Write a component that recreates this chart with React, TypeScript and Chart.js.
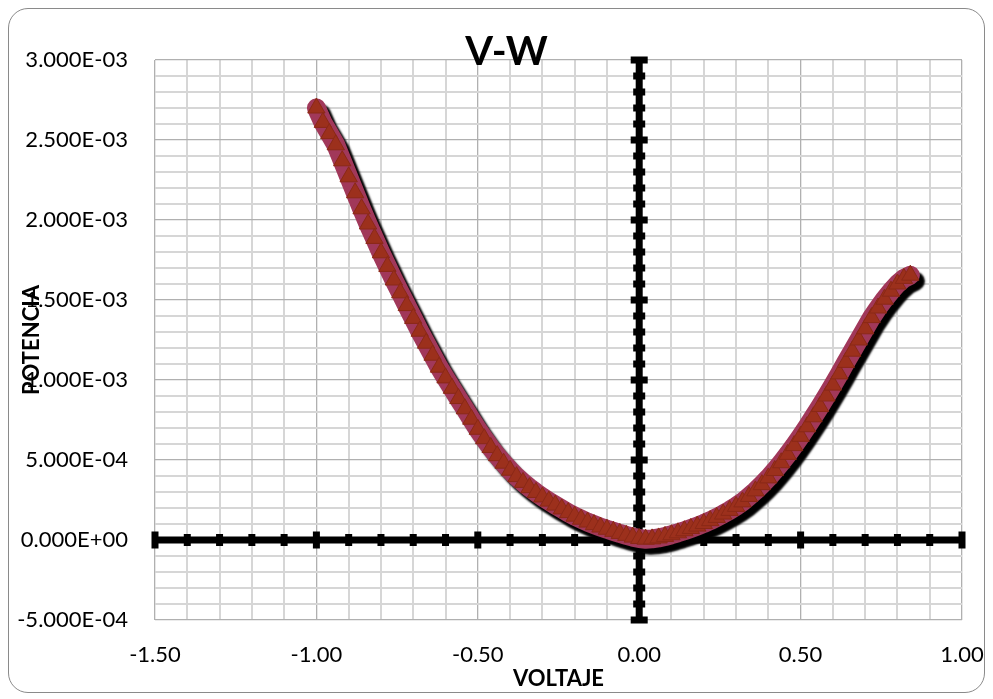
import React, { useEffect, useRef } from 'react';
import { Chart, registerables } from 'chart.js';

Chart.register(...registerables);

// Data (V-W curve)
const voltaje = [
  -1.00, -0.98, -0.96, -0.94, -0.92, -0.90, -0.88, -0.86, -0.84, -0.82,
  -0.80, -0.78, -0.76, -0.74, -0.72, -0.70, -0.68, -0.66, -0.64, -0.62,
  -0.60, -0.58, -0.56, -0.54, -0.52, -0.50, -0.48, -0.46, -0.44, -0.42,
  -0.40, -0.38, -0.36, -0.34, -0.32, -0.30, -0.28, -0.26, -0.24, -0.22,
  -0.20, -0.18, -0.16, -0.14, -0.12, -0.10, -0.08, -0.06, -0.04, -0.02,
  0.00, 0.02, 0.04, 0.06, 0.08, 0.10, 0.12, 0.14, 0.16, 0.18,
  0.20, 0.22, 0.24, 0.26, 0.28, 0.30, 0.32, 0.34, 0.36, 0.38,
  0.40, 0.42, 0.44, 0.46, 0.48, 0.50, 0.52, 0.54, 0.56, 0.58,
  0.60, 0.62, 0.64, 0.66, 0.68, 0.70, 0.72, 0.74, 0.76, 0.78,
  0.80, 0.82, 0.84,
];

const potencia = [
  2.70e-3, 2.61e-3, 2.54e-3, 2.47e-3, 2.37e-3, 2.27e-3, 2.17e-3, 2.07e-3, 1.975e-3, 1.885e-3,
  1.795e-3, 1.71e-3, 1.625e-3, 1.545e-3, 1.465e-3, 1.385e-3, 1.305e-3, 1.23e-3, 1.155e-3, 1.08e-3,
  1.013e-3, 9.48e-4, 8.84e-4, 8.20e-4, 7.55e-4, 6.92e-4, 6.33e-4, 5.78e-4, 5.27e-4, 4.80e-4,
  4.36e-4, 3.96e-4, 3.60e-4, 3.27e-4, 2.97e-4, 2.69e-4, 2.43e-4, 2.18e-4, 1.94e-4, 1.71e-4,
  1.49e-4, 1.30e-4, 1.12e-4, 9.6e-5, 8.1e-5, 6.7e-5, 5.4e-5, 4.1e-5, 2.9e-5, 1.8e-5,
  9e-6, 5e-6, 7e-6, 1.3e-5, 2.2e-5, 3.3e-5, 4.5e-5, 5.8e-5, 7.2e-5, 8.7e-5,
  1.03e-4, 1.21e-4, 1.41e-4, 1.62e-4, 1.85e-4, 2.10e-4, 2.38e-4, 2.72e-4, 3.07e-4, 3.46e-4,
  3.88e-4, 4.34e-4, 4.83e-4, 5.35e-4, 5.90e-4, 6.48e-4, 7.08e-4, 7.70e-4, 8.34e-4, 9.00e-4,
  9.68e-4, 1.038e-3, 1.11e-3, 1.18e-3, 1.25e-3, 1.32e-3, 1.39e-3, 1.45e-3, 1.505e-3, 1.555e-3,
  1.60e-3, 1.635e-3, 1.655e-3,
];

const chartTitle = 'V-W';
const xTitle = 'VOLTAJE';
const yTitle = 'POTENCIA';
const xMin = -1.5;
const xMax = 1.0;
const xStep = 0.1;
const xMajorEvery = 5; // label every 0.5
const yMin = -5e-4;
const yMax = 3e-3;
const yStep = 1e-4;
const yMajorEvery = 5; // label every 5E-4

function sciLabel(v: number): string {
  if (Math.abs(v) < 1e-12) return '0.000E+00';
  const [m, e] = v.toExponential(3).split('e');
  const n = parseInt(e, 10);
  return m + 'E' + (n < 0 ? '-' : '+') + String(Math.abs(n)).padStart(2, '0');
}

function isMajorX(v: number | undefined) {
  if (v === undefined) return false;
  return Math.round(v / xStep) % xMajorEvery === 0;
}
function isMajorY(v: number | undefined) {
  if (v === undefined) return false;
  return Math.round(v / yStep) % yMajorEvery === 0;
}

const axisCrossPlugin = {
  id: 'axisCross',
  beforeDatasetsDraw(chart: any) {
    const { ctx, chartArea } = chart;
    const xs = chart.scales.x;
    const ys = chart.scales.y;
    const x0 = xs.getPixelForValue(0);
    const y0 = ys.getPixelForValue(0);
    const lw = 7;
    ctx.save();
    ctx.fillStyle = '#000';
    ctx.fillRect(chartArea.left, y0 - lw / 2, chartArea.right - chartArea.left, lw);
    ctx.fillRect(x0 - lw / 2, chartArea.top, lw, chartArea.bottom - chartArea.top);
    xs.ticks.forEach((t: any) => {
      const px = xs.getPixelForValue(t.value);
      const h = isMajorX(t.value) ? 17 : 12;
      ctx.fillRect(px - 3.5, y0 - h / 2, 7, h);
    });
    ys.ticks.forEach((t: any) => {
      const py = ys.getPixelForValue(t.value);
      const w = isMajorY(t.value) ? 17 : 12;
      ctx.fillRect(x0 - w / 2, py - 3.5, w, 7);
    });
    ctx.restore();
  },
};

const shadowPlugin = {
  id: 'bandShadow',
  beforeDatasetDraw(chart: any, args: any) {
    if (args.index === 1) {
      const c = chart.ctx;
      c.save();
      c.shadowColor = 'rgba(0,0,0,1)';
      c.shadowOffsetX = 5;
      c.shadowOffsetY = 6;
      c.shadowBlur = 2;
    }
  },
  afterDatasetDraw(chart: any, args: any) {
    if (args.index === 1) chart.ctx.restore();
  },
};

const titlePlugin = {
  id: 'overlayTitle',
  afterDraw(chart: any) {
    const c = chart.ctx;
    c.save();
    c.font = 'bold 40px Lato';
    c.fillStyle = '#000';
    c.textAlign = 'center';
    c.textBaseline = 'middle';
    c.fillText(chartTitle, chart.width / 2 + 10, 43);
    c.restore();
  },
};

export default function App() {
  const ref = useRef<HTMLCanvasElement | null>(null);

  useEffect(() => {
    if (!ref.current) return;
    const points = voltaje.map((v, i) => ({ x: v, y: potencia[i] }));
    const chart = new Chart(ref.current, {
      type: 'scatter',
      data: {
        datasets: [
          {
            label: 'marcadores',
            data: points,
            showLine: false,
            pointStyle: 'triangle',
            pointRadius: 10,
            pointBackgroundColor: '#9c301c',
            pointBorderColor: '#8a2816',
            pointBorderWidth: 1,
          },
          {
            label: 'linea',
            data: points,
            showLine: true,
            borderColor: '#a1385a',
            borderWidth: 19,
            borderJoinStyle: 'round',
            borderCapStyle: 'round',
            pointRadius: 0,
            tension: 0,
          },
        ],
      },
      options: {
        animation: false,
        responsive: true,
        maintainAspectRatio: false,
        layout: { padding: { left: 0, right: 0, top: 51, bottom: 0 } },
        plugins: {
          legend: { display: false },
          tooltip: { enabled: false },
          title: { display: false },
        },
        scales: {
          x: {
            type: 'linear',
            min: xMin,
            max: xMax,
            border: { display: false },
            grid: {
              drawTicks: false,
              color: (c: any) => (isMajorX(c.tick?.value) ? '#b0b0b0' : '#d6d6d6'),
              lineWidth: (c: any) => (isMajorX(c.tick?.value) ? 1.3 : 2),
            },
            ticks: {
              stepSize: xStep,
              autoSkip: false,
              maxRotation: 0,
              minRotation: 0,
              padding: 22,
              color: '#000',
              font: { family: 'Lato', size: 22 },
              callback: (v: any) => {
                const n = Number(v);
                if (!isMajorX(n)) return '';
                const r = Math.round(n * 100) / 100;
                return (Math.abs(r) < 1e-9 ? 0 : r).toFixed(2);
              },
            },
            title: {
              display: true,
              text: xTitle,
              color: '#000',
              font: { family: 'Lato', size: 22, weight: 'bold' },
              padding: { top: 0, bottom: 0 },
            },
            afterFit: (s: any) => {
              s.height = 72;
              s.paddingLeft = 0;
              s.paddingRight = 22;
            },
          },
          y: {
            type: 'linear',
            min: yMin,
            max: yMax,
            border: { display: false },
            grid: {
              drawTicks: false,
              color: (c: any) => (isMajorY(c.tick?.value) ? '#b0b0b0' : '#d6d6d6'),
              lineWidth: (c: any) => (isMajorY(c.tick?.value) ? 1.3 : 2),
            },
            ticks: {
              stepSize: yStep,
              autoSkip: false,
              padding: 27,
              color: '#000',
              font: { family: 'Lato', size: 22 },
              callback: (v: any) => {
                const n = Number(v);
                if (!isMajorY(n)) return '';
                return sciLabel(Math.round(n / yStep) * yStep);
              },
            },
            title: {
              display: true,
              text: yTitle,
              color: '#000',
              font: { family: 'Lato', size: 22, weight: 'bold' },
              padding: { top: 10, bottom: 0 },
            },
            afterFit: (s: any) => {
              s.width = 146;
              s.paddingTop = 0;
              s.paddingBottom = 0;
            },
          },
        },
      },
      plugins: [axisCrossPlugin, shadowPlugin, titlePlugin],
    } as any);
    return () => chart.destroy();
  }, []);

  return (
    <div
      style={{
        width: 977,
        height: 685,
        border: '1px solid #8a8a8a',
        borderRadius: 20,
        boxSizing: 'border-box',
        position: 'relative',
        background: '#fff',
        overflow: 'hidden',
      }}
    >
      <canvas ref={ref} />
    </div>
  );
}
